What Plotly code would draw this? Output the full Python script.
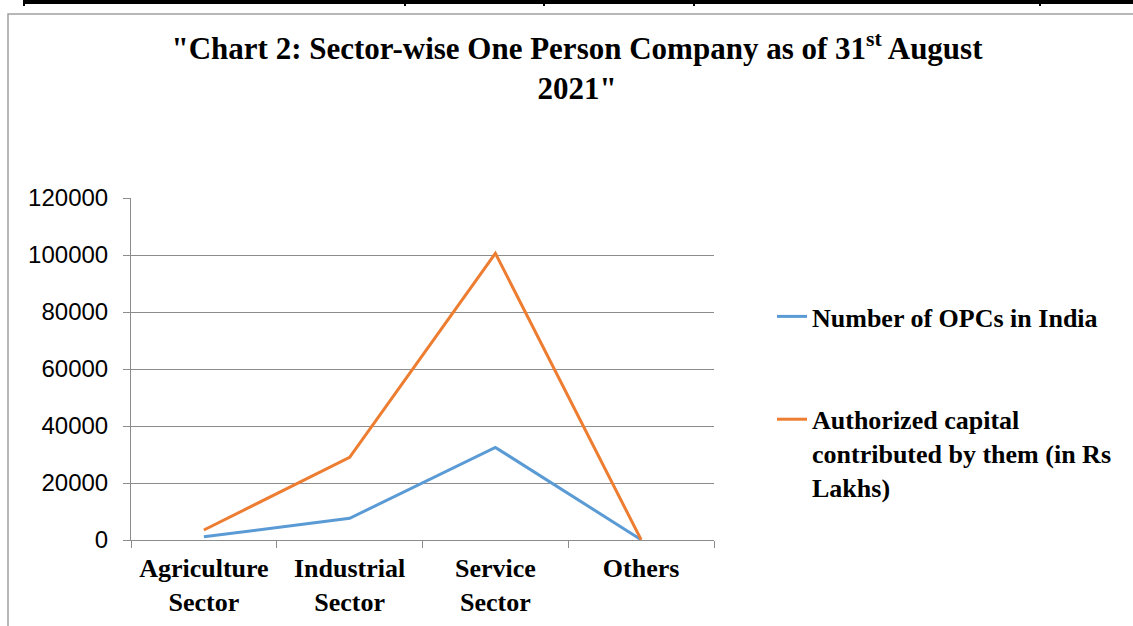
import plotly.graph_objects as go

categories = ["Agriculture<br>Sector", "Industrial<br>Sector", "Service<br>Sector", "Others"]
opcs = [1150, 7600, 32500, 100]
capital = [3500, 29000, 100600, 100]
series_names = ["Number of OPCs in India", "Authorized capital<br>contributed by them (in Rs<br>Lakhs)"]
y_ticks = [0, 20000, 40000, 60000, 80000, 100000, 120000]

W, H = 1133, 626
L, R, T, B = 131, 714, 198, 540

def px(x):
    return (x - L) / (R - L)

def py(y):
    return (B - y) / (B - T)

fig = go.Figure()
fig.add_trace(go.Scatter(x=categories, y=opcs, mode="lines", name=series_names[0],
                         line=dict(color="#5b9bd5", width=3), legendgroup="a"))
fig.add_trace(go.Scatter(x=categories, y=capital, mode="lines", name=series_names[1],
                         line=dict(color="#ed7d31", width=3), legendgroup="b"))

serif = "Liberation Serif"
shapes = [
    dict(type="rect", xref="paper", yref="paper", x0=px(8), x1=px(1145), y0=py(14), y1=py(640),
         line=dict(color="#a0a0a0", width=1.5), fillcolor="rgba(0,0,0,0)", layer="below"),
    dict(type="rect", xref="paper", yref="paper", x0=px(24), x1=px(1140), y0=py(0), y1=py(4),
         line=dict(width=0), fillcolor="black"),
]
for vx in [24, 405, 544, 694, 1040]:
    shapes.append(dict(type="line", xref="paper", yref="paper", x0=px(vx), x1=px(vx),
                       y0=py(-2), y1=py(6), line=dict(color="black", width=2)))

fig.update_layout(
    width=W, height=H,
    margin=dict(l=L, r=W - R, t=T, b=H - B, autoexpand=False),
    paper_bgcolor="white", plot_bgcolor="white",
    title=dict(text="<b>\"Chart 2: Sector-wise One Person Company as of 31<sup>st</sup> August<br>2021\"</b>",
               x=px(577), xref="paper", xanchor="center", y=1 - 59 / H, yanchor="middle",
               font=dict(family=serif, size=31, color="black")),
    xaxis=dict(type="category", range=[-0.5, 3.5], tickson="boundaries", ticks="outside", ticklen=7,
               tickcolor="#8c8c8c", showline=True, linecolor="#8c8c8c", showgrid=False,
               tickfont=dict(family=serif, size=26, color="black"), tickprefix="<b>", ticksuffix="</b>",
               ticklabelstandoff=5),
    yaxis=dict(range=[0, 120000], tickvals=y_ticks, tickformat="d", ticks="outside", ticklen=7,
               tickcolor="#8c8c8c", showline=True, linecolor="#8c8c8c", showgrid=True,
               gridcolor="#8c8c8c", gridwidth=1, zeroline=False,
               tickfont=dict(family="Liberation Sans", size=24, color="black"), ticklabelstandoff=10),
    legend=dict(x=px(772), y=py(293), xanchor="left", yanchor="top", tracegroupgap=66,
                font=dict(family=serif, size=26, color="black"), bgcolor="rgba(0,0,0,0)",
                valign="top"),
    shapes=shapes,
    showlegend=True,
)
fig.for_each_trace(lambda t: t.update(name="<b>" + t.name + "</b>"))
fig.write_html("out.html", config={"displayModeBar": False},
               post_script="document.body.style.margin='0';document.body.style.overflow='hidden';")
